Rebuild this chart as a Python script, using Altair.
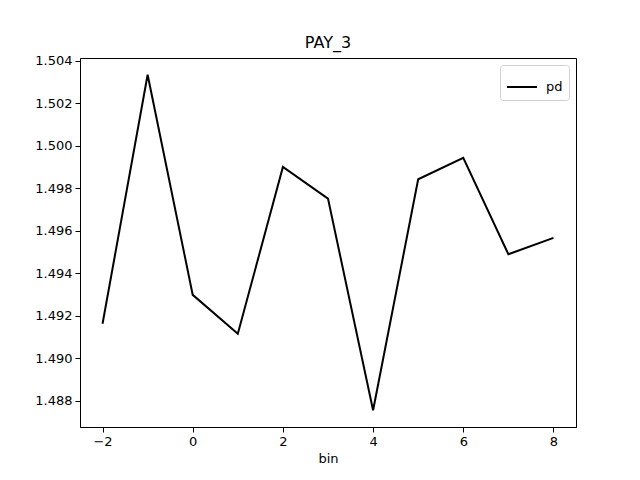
import altair as alt
import pandas as pd

bins = [-2, -1, 0, 1, 2, 3, 4, 5, 6, 7, 8]
pd_values = [1.49162, 1.50334, 1.49298, 1.49115, 1.49900, 1.49751,
             1.48755, 1.49842, 1.49943, 1.49489, 1.49566]
series = ["pd"] * len(bins)

df = pd.DataFrame({"bin": bins, "value": pd_values, "series": series})

font = "DejaVu Sans"

chart = alt.Chart(df).mark_line(strokeWidth=2, color="black").encode(
    x=alt.X("bin:Q", title="bin",
            scale=alt.Scale(domain=[-2.5, 8.5], nice=False, zero=False),
            axis=alt.Axis(values=[-2, 0, 2, 4, 6, 8], grid=False, format="d",
                          tickSize=5, tickColor="black", domainColor="black",
                          labelColor="black", titleColor="black",
                          labelFontSize=13, titleFontSize=13,
                          titleFontWeight="normal", labelPadding=3, titlePadding=4)),
    y=alt.Y("value:Q", title=None,
            scale=alt.Scale(domain=[1.48676, 1.50413], nice=False, zero=False),
            axis=alt.Axis(values=[1.488, 1.490, 1.492, 1.494, 1.496, 1.498,
                                  1.500, 1.502, 1.504],
                          format=".3f", grid=False,
                          tickSize=5, tickColor="black", domainColor="black",
                          labelColor="black", labelFontSize=13, labelPadding=3)),
    color=alt.Color("series:N",
                    scale=alt.Scale(domain=["pd"], range=["black"]),
                    legend=alt.Legend(title=None, orient="top-right",
                                      symbolType="stroke", symbolStrokeWidth=2,
                                      symbolSize=900, labelFontSize=13,
                                      labelColor="black", labelOffset=8,
                                      strokeColor="#d0d0d0", padding=6,
                                      cornerRadius=3, fillColor="white",
                                      offset=7)),
).properties(
    width=496,
    height=369,
    title=alt.TitleParams("PAY_3", fontSize=16, fontWeight="normal",
                          color="black", offset=4),
    autosize=alt.AutoSizeParams(type="none"),
    padding={"left": 72, "top": 50, "right": 56, "bottom": 45},
).configure(
    font=font,
).configure_view(
    stroke="black", strokeWidth=1,
)

chart.save("out.html", embed_options={"renderer": "svg", "actions": False})
